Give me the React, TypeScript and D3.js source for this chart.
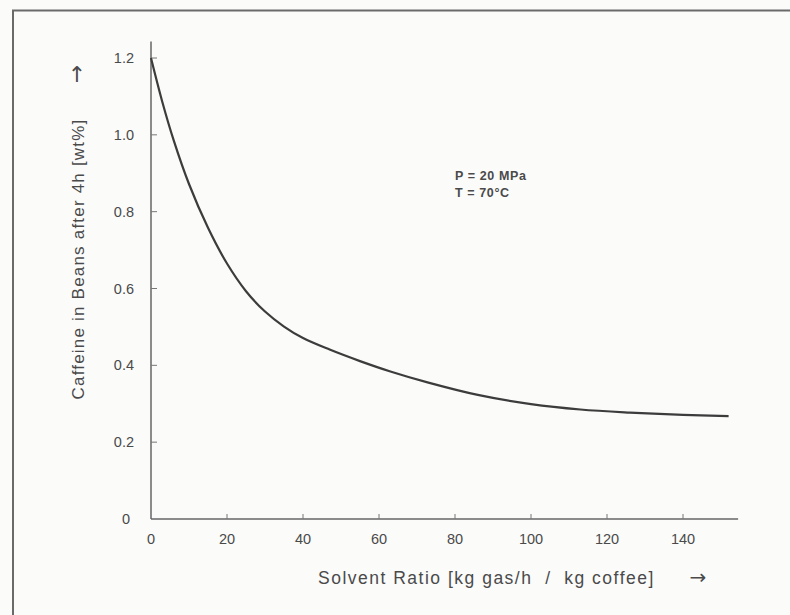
import React, { useEffect, useRef } from "react";
import * as d3 from "d3";

// Solvent ratio (kg gas/h per kg coffee) vs residual caffeine (wt%)
const solventRatio = [0, 3, 6, 10, 15, 20, 25, 30, 35, 40, 47, 55, 63, 73, 86, 100, 113, 126, 140, 152];
const caffeine = [1.2, 1.085, 0.985, 0.872, 0.758, 0.665, 0.593, 0.54, 0.501, 0.471, 0.441, 0.411, 0.384, 0.355, 0.323, 0.299, 0.285, 0.277, 0.271, 0.268];

const xTicks = [0, 20, 40, 60, 80, 100, 120, 140];
const yTicks = [0, 0.2, 0.4, 0.6, 0.8, 1.0, 1.2];
const yTickLabels = ["0", "0.2", "0.4", "0.6", "0.8", "1.0", "1.2"];

const conditions = ["P = 20 MPa", "T = 70°C"];
const xTitle = "Solvent Ratio [kg gas/h  /  kg coffee]";
const yTitle = "Caffeine in Beans after 4h [wt%]";

const W = 790;
const H = 615;
const FONT = "'Liberation Sans', Arial, sans-serif";
const INK = "#4a4a4a";

export default function App() {
  const ref = useRef<SVGSVGElement>(null);

  useEffect(() => {
    const svg = d3.select(ref.current);
    svg.selectAll("*").remove();

    const x = d3.scaleLinear().domain([0, 140]).range([151, 683]);
    const y = d3.scaleLinear().domain([0, 1.2]).range([519, 58]);

    svg.append("rect").attr("width", W).attr("height", H).attr("fill", "#fbfbfa");

    // page frame (top and left edges)
    svg.append("path")
      .attr("d", `M13,${H} L13,10.5 L${W},10.5`)
      .attr("fill", "none")
      .attr("stroke", "#6a6a6a")
      .attr("stroke-width", 2);

    const g = svg.append("g");

    // axes
    g.append("line")
      .attr("x1", x(0)).attr("x2", x(0))
      .attr("y1", y(0)).attr("y2", y(1.243))
      .attr("stroke", "#666").attr("stroke-width", 1.5);
    g.append("line")
      .attr("x1", x(0)).attr("x2", x(154.5))
      .attr("y1", y(0)).attr("y2", y(0))
      .attr("stroke", "#666").attr("stroke-width", 1.5);

    // y ticks (inward) and labels
    yTicks.forEach((v, i) => {
      if (v > 0) {
        g.append("line")
          .attr("x1", x(0)).attr("x2", x(0) + 6)
          .attr("y1", y(v)).attr("y2", y(v))
          .attr("stroke", "#777").attr("stroke-width", 1);
      }
      g.append("text")
        .attr("x", v === 0 ? 130 : 134)
        .attr("y", y(v) + 5)
        .attr("text-anchor", "end")
        .attr("font-family", FONT)
        .attr("font-size", 14.5)
        .attr("fill", INK)
        .text(yTickLabels[i]);
    });

    // x ticks (inward) and labels
    xTicks.forEach((v) => {
      if (v > 0) {
        g.append("line")
          .attr("x1", x(v)).attr("x2", x(v))
          .attr("y1", y(0)).attr("y2", y(0) - 5)
          .attr("stroke", "#777").attr("stroke-width", 1);
      }
      g.append("text")
        .attr("x", x(v))
        .attr("y", 544)
        .attr("text-anchor", "middle")
        .attr("font-family", FONT)
        .attr("font-size", 14.5)
        .attr("fill", INK)
        .text(String(v));
    });

    // curve
    const line = d3.line<number>()
      .x((_, i) => x(solventRatio[i]))
      .y((d) => y(d))
      .curve(d3.curveCatmullRom.alpha(0.5));
    g.append("path")
      .datum(caffeine)
      .attr("d", line)
      .attr("fill", "none")
      .attr("stroke", "#3c3c3c")
      .attr("stroke-width", 2.2);

    // operating conditions
    conditions.forEach((t, i) => {
      g.append("text")
        .attr("x", 455)
        .attr("y", 180 + i * 17)
        .attr("font-family", FONT)
        .attr("font-size", 12.5)
        .attr("font-weight", "bold")
        .attr("letter-spacing", 0.6)
        .attr("fill", INK)
        .text(t);
    });

    // axis titles with arrows
    g.append("text")
      .attr("x", 318)
      .attr("y", 584)
      .attr("font-family", FONT)
      .attr("font-size", 17.5)
      .attr("letter-spacing", 1.5)
      .attr("fill", INK)
      .style("white-space", "pre")
      .text(xTitle);
    g.append("text")
      .attr("x", 698)
      .attr("y", 584)
      .attr("text-anchor", "middle")
      .attr("font-family", "'DejaVu Sans', sans-serif")
      .attr("font-size", 20)
      .attr("fill", INK)
      .text("→");

    g.append("text")
      .attr("transform", `translate(84,259) rotate(-90)`)
      .attr("text-anchor", "middle")
      .attr("font-family", FONT)
      .attr("font-size", 17)
      .attr("letter-spacing", 1.2)
      .attr("fill", INK)
      .text(yTitle);
    g.append("text")
      .attr("x", 77)
      .attr("y", 82)
      .attr("text-anchor", "middle")
      .attr("font-family", "'DejaVu Sans', sans-serif")
      .attr("font-size", 22)
      .attr("fill", INK)
      .text("↑");
  }, []);

  return (
    <svg
      ref={ref}
      width={W}
      height={H}
      style={{ position: "absolute", left: 0, top: 0, display: "block" }}
    />
  );
}
